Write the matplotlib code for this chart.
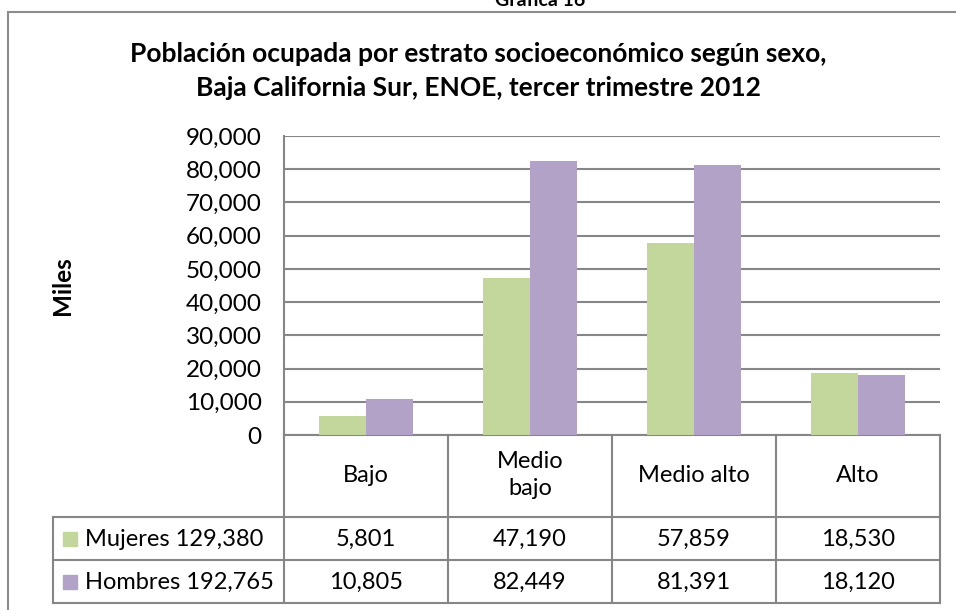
import matplotlib
matplotlib.use("Agg")
import matplotlib.pyplot as plt
from matplotlib.patches import Rectangle
from matplotlib.lines import Line2D

plt.rcParams['font.family'] = ['Lato', 'DejaVu Sans']

categories = ["Bajo", "Medio\nbajo", "Medio alto", "Alto"]
series_names = ["Mujeres 129,380", "Hombres 192,765"]
mujeres = [5801, 47190, 57859, 18530]
hombres = [10805, 82449, 81391, 18120]
mujeres_lbl = ["5,801", "47,190", "57,859", "18,530"]
hombres_lbl = ["10,805", "82,449", "81,391", "18,120"]
yticks = [0, 10000, 20000, 30000, 40000, 50000, 60000, 70000, 80000, 90000]

colors = ["#C3D69B", "#B2A2C7"]
grid_c = "#868686"

W, H = 956, 610
fig = plt.figure(figsize=(W / 100, H / 100), dpi=100)

def fx(px):
    return px / W

def fy(py):
    return 1 - py / H

# outer frame
fig.patches.append(Rectangle((fx(8), fy(700)), fx(1000), fy(12) - fy(700),
                             transform=fig.transFigure, fill=False,
                             edgecolor="#8C8C8C", linewidth=1.5))

fig.text(fx(540), fy(6), "Gráfica 16", ha="center", va="baseline",
         fontsize=14, fontweight="bold")

fig.text(fx(478), fy(54), "Población ocupada por estrato socioeconómico según sexo,",
         ha="center", va="center", fontsize=19, fontweight="bold")
fig.text(fx(478), fy(88), "Baja California Sur, ENOE, tercer trimestre 2012",
         ha="center", va="center", fontsize=19, fontweight="bold")

L, R, T, B = 284, 940, 136, 435
ax = fig.add_axes([fx(L), fy(B), fx(R) - fx(L), fy(T) - fy(B)])
x = list(range(len(categories)))
bw = 0.285
ax.bar([i - bw / 2 for i in x], mujeres, width=bw, color=colors[0], zorder=3)
ax.bar([i + bw / 2 for i in x], hombres, width=bw, color=colors[1], zorder=3)
ax.set_xlim(-0.5, len(categories) - 0.5)
ax.set_ylim(0, 90000)
ax.set_yticks(yticks)
ax.set_yticklabels([f"{v:,}" for v in yticks], fontsize=17.5)
ax.tick_params(axis="y", length=0, pad=16)
ax.set_xticks([])
ax.yaxis.grid(True, color=grid_c, linewidth=1.5, zorder=0)
for s in ["top", "right"]:
    ax.spines[s].set_visible(False)
ax.spines["left"].set_color(grid_c)
ax.spines["left"].set_linewidth(1.5)
ax.spines["bottom"].set_color(grid_c)
ax.spines["bottom"].set_linewidth(1.5)

fig.text(fx(62), fy(286), "Miles", rotation=90, ha="center", va="center",
         fontsize=17.5, fontweight="bold")

# data table
col_x = [L + i * (R - L) / 4 for i in range(5)]
leg_l = 53

def hline(y, x0, x1):
    fig.add_artist(Line2D([fx(x0), fx(x1)], [fy(y), fy(y)], color=grid_c, linewidth=1.5))

def vline(x0, y0, y1):
    fig.add_artist(Line2D([fx(x0), fx(x0)], [fy(y0), fy(y1)], color=grid_c, linewidth=1.5))

hline(517, leg_l, R)
hline(560, leg_l, R)
hline(603, leg_l, R)
for cx in col_x:
    vline(cx, 435, 603)
vline(leg_l, 517, 603)

for i, c in enumerate(categories):
    cx = (col_x[i] + col_x[i + 1]) / 2
    fig.text(fx(cx), fy(475), c, ha="center", va="center", fontsize=17,
             linespacing=1.35)
    fig.text(fx(cx), fy(539), mujeres_lbl[i], ha="center", va="center", fontsize=17)
    fig.text(fx(cx), fy(582), hombres_lbl[i], ha="center", va="center", fontsize=17)

for j, (name, yc) in enumerate(zip(series_names, [539, 582])):
    fig.patches.append(Rectangle((fx(63), fy(yc + 7)), fx(14), fy(yc - 7) - fy(yc + 7),
                                 transform=fig.transFigure, color=colors[j]))
    fig.text(fx(85), fy(yc), name, ha="left", va="center", fontsize=17)

fig.savefig("out.png", dpi=100)
